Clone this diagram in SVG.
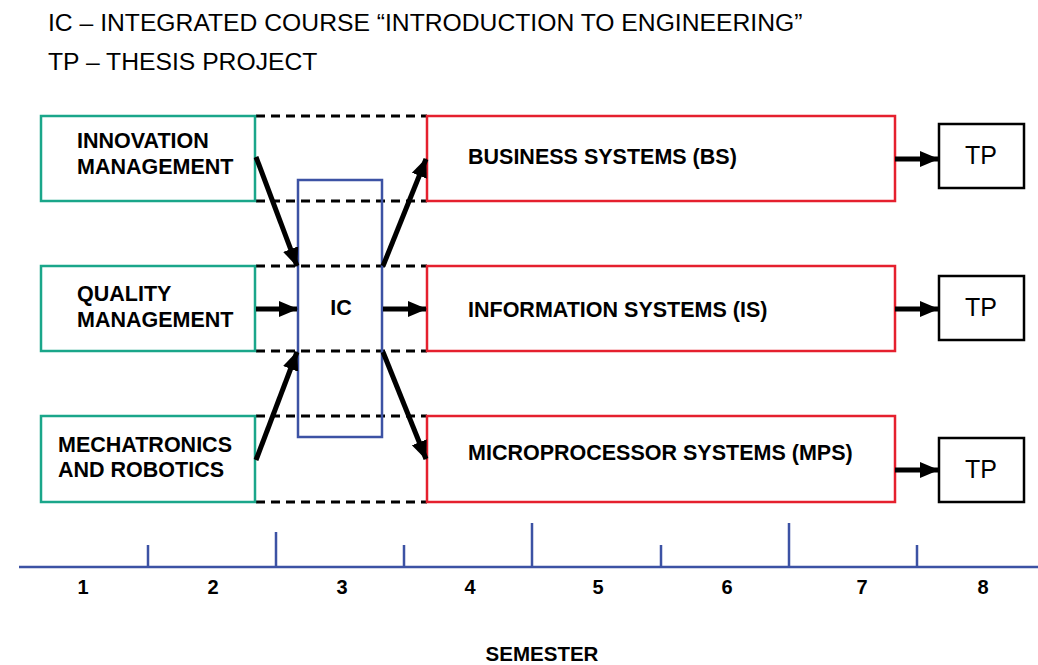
<svg xmlns="http://www.w3.org/2000/svg" width="1038" height="665" viewBox="0 0 1038 665">
<style>
text{font-family:"Liberation Sans",Arial,sans-serif;fill:#000}
.hdr{font-size:24.7px}
.lbl{font-size:21.5px;font-weight:bold}
.tp{font-size:25px;text-anchor:middle}
.num{font-size:20px;font-weight:bold;text-anchor:middle}
.g{fill:#fff;stroke:#1aa68a;stroke-width:2.5}
.r{fill:#fff;stroke:#e5202e;stroke-width:2.5}
.b{fill:none;stroke:#3c52a4;stroke-width:2.5}
.k{fill:#fff;stroke:#000;stroke-width:2.5}
.dash{stroke:#000;stroke-width:3;stroke-dasharray:9 6;fill:none}
.arr{stroke:#000;stroke-width:5;fill:none;marker-end:url(#ah)}
.axis{stroke:#3c52a4;stroke-width:2.5;fill:none}
</style>
<defs>
<marker id="ah" markerUnits="userSpaceOnUse" markerWidth="20" markerHeight="18" refX="18" refY="9" orient="auto">
<path d="M0,1 L19,9 L0,17 Z" fill="#000"/>
</marker>
</defs>
<text class="hdr" x="48" y="31">IC – INTEGRATED COURSE “INTRODUCTION TO ENGINEERING”</text>
<text class="hdr" x="48" y="70">TP – THESIS PROJECT</text>
<g id="dashes">
<line class="dash" x1="256" y1="116" x2="427" y2="116"/>
<line class="dash" x1="256" y1="201" x2="427" y2="201"/>
<line class="dash" x1="256" y1="266" x2="427" y2="266"/>
<line class="dash" x1="256" y1="351" x2="427" y2="351"/>
<line class="dash" x1="256" y1="416" x2="427" y2="416"/>
<line class="dash" x1="256" y1="502" x2="427" y2="502"/>
</g>
<g id="n-innovation"><rect class="g" x="41" y="116" width="214" height="85"/><text class="lbl" x="77" y="148">INNOVATION</text><text class="lbl" x="77" y="174">MANAGEMENT</text></g>
<g id="n-quality"><rect class="g" x="41" y="266" width="214" height="85"/><text class="lbl" x="77" y="301">QUALITY</text><text class="lbl" x="77" y="327">MANAGEMENT</text></g>
<g id="n-mechatronics"><rect class="g" x="41" y="416" width="214" height="86"/><text class="lbl" x="58" y="452">MECHATRONICS</text><text class="lbl" x="58" y="477">AND ROBOTICS</text></g>
<g id="n-ic"><rect class="b" x="298" y="180" width="84" height="257"/><text class="lbl" x="341" y="315" text-anchor="middle">IC</text></g>
<g id="n-bs"><rect class="r" x="427" y="116" width="468" height="85"/><text class="lbl" x="468" y="164">BUSINESS SYSTEMS (BS)</text></g>
<g id="n-is"><rect class="r" x="427" y="266" width="468" height="85"/><text class="lbl" x="468" y="317">INFORMATION SYSTEMS (IS)</text></g>
<g id="n-mps"><rect class="r" x="427" y="416" width="468" height="86"/><text class="lbl" x="468" y="460">MICROPROCESSOR SYSTEMS (MPS)</text></g>
<g id="n-tp1"><rect class="k" x="939" y="124" width="85" height="64"/><text class="tp" x="981" y="164">TP</text></g>
<g id="n-tp2"><rect class="k" x="939" y="276" width="85" height="64"/><text class="tp" x="981" y="316">TP</text></g>
<g id="n-tp3"><rect class="k" x="939" y="438" width="85" height="64"/><text class="tp" x="981" y="478">TP</text></g>
<g id="connectors">
<line class="arr" x1="256" y1="157" x2="297" y2="266"/>
<line class="arr" x1="256" y1="309" x2="297" y2="309"/>
<line class="arr" x1="256" y1="460" x2="297" y2="352"/>
<line class="arr" x1="383" y1="266" x2="426" y2="159"/>
<line class="arr" x1="383" y1="309" x2="426" y2="309"/>
<line class="arr" x1="383" y1="352" x2="426" y2="459"/>
<line class="arr" x1="895" y1="159" x2="938" y2="159"/>
<line class="arr" x1="895" y1="309" x2="938" y2="309"/>
<line class="arr" x1="895" y1="470" x2="938" y2="470"/>
</g>
<g id="timeline">
<line class="axis" x1="19" y1="567" x2="1038" y2="567"/>
<path class="axis" d="M148,567V545M276,567V532M404,567V545M532,567V523M661,567V545M789,567V523M917,567V545"/>
<text class="num" x="83" y="594">1</text>
<text class="num" x="213" y="594">2</text>
<text class="num" x="342" y="594">3</text>
<text class="num" x="470" y="594">4</text>
<text class="num" x="598" y="594">5</text>
<text class="num" x="727" y="594">6</text>
<text class="num" x="862" y="594">7</text>
<text class="num" x="983" y="594">8</text>
<text class="lbl" x="542" y="661" text-anchor="middle" style="font-size:20.5px">SEMESTER</text>
</g>
</svg>
